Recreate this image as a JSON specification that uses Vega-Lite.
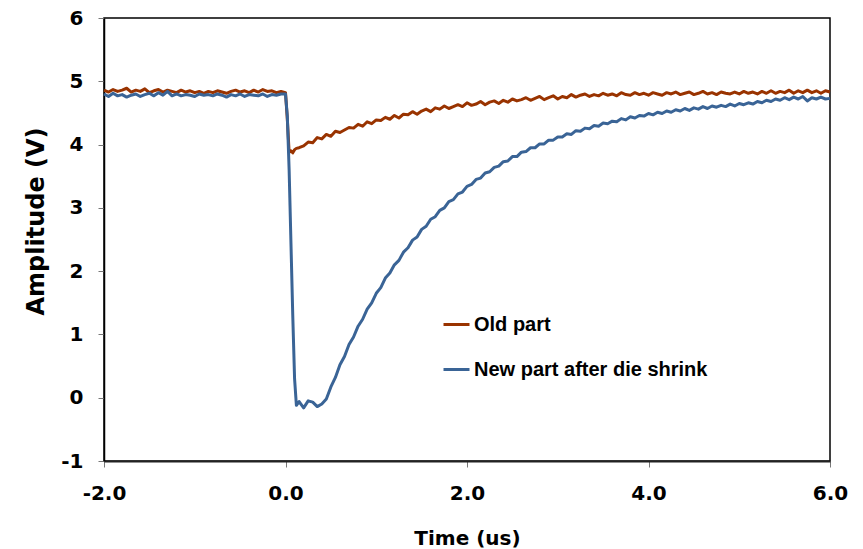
{
  "$schema": "https://vega.github.io/schema/vega-lite/v6.json",
  "width": 726,
  "height": 443,
  "autosize": {"type": "none"},
  "padding": {"left": 104, "top": 18, "right": 33, "bottom": 88},
  "background": "white",
  "config": {"view": {"stroke": "#000", "strokeWidth": 1.5}, "font": "DejaVu Sans"},
  "data": {"values": [
    {"t": -2.00, "o": 4.86, "n": 4.80}, {"t": -1.95, "o": 4.83, "n": 4.76}, {"t": -1.90, "o": 4.87, "n": 4.81},
    {"t": -1.85, "o": 4.84, "n": 4.77}, {"t": -1.80, "o": 4.86, "n": 4.79}, {"t": -1.75, "o": 4.89, "n": 4.75},
    {"t": -1.70, "o": 4.83, "n": 4.78}, {"t": -1.65, "o": 4.86, "n": 4.80}, {"t": -1.60, "o": 4.84, "n": 4.76},
    {"t": -1.55, "o": 4.88, "n": 4.79}, {"t": -1.50, "o": 4.82, "n": 4.81}, {"t": -1.45, "o": 4.85, "n": 4.77},
    {"t": -1.40, "o": 4.87, "n": 4.82}, {"t": -1.35, "o": 4.83, "n": 4.78}, {"t": -1.30, "o": 4.86, "n": 4.84},
    {"t": -1.25, "o": 4.84, "n": 4.77}, {"t": -1.20, "o": 4.82, "n": 4.80}, {"t": -1.15, "o": 4.86, "n": 4.77},
    {"t": -1.10, "o": 4.83, "n": 4.79}, {"t": -1.05, "o": 4.85, "n": 4.78}, {"t": -1.00, "o": 4.82, "n": 4.76},
    {"t": -0.95, "o": 4.84, "n": 4.80}, {"t": -0.90, "o": 4.81, "n": 4.78}, {"t": -0.85, "o": 4.84, "n": 4.79},
    {"t": -0.80, "o": 4.82, "n": 4.77}, {"t": -0.75, "o": 4.85, "n": 4.80}, {"t": -0.70, "o": 4.83, "n": 4.78},
    {"t": -0.65, "o": 4.81, "n": 4.75}, {"t": -0.60, "o": 4.84, "n": 4.79}, {"t": -0.55, "o": 4.86, "n": 4.77},
    {"t": -0.50, "o": 4.83, "n": 4.80}, {"t": -0.45, "o": 4.85, "n": 4.76}, {"t": -0.40, "o": 4.82, "n": 4.79},
    {"t": -0.35, "o": 4.86, "n": 4.78}, {"t": -0.30, "o": 4.83, "n": 4.77}, {"t": -0.25, "o": 4.87, "n": 4.80},
    {"t": -0.20, "o": 4.84, "n": 4.76}, {"t": -0.15, "o": 4.85, "n": 4.79}, {"t": -0.10, "o": 4.82, "n": 4.78},
    {"t": -0.05, "o": 4.84, "n": 4.80}, {"t": 0.00, "o": 4.82, "n": 4.80}, {"t": 0.02, "o": 4.40, "n": 4.45},
    {"t": 0.04, "o": 3.88, "n": 3.60}, {"t": 0.06, "o": 3.90, "n": 2.45}, {"t": 0.08, "o": 3.87, "n": 1.30},
    {"t": 0.10, "o": 3.92, "n": 0.30}, {"t": 0.12, "o": 3.94, "n": -0.12}, {"t": 0.15, "o": 3.95, "n": -0.06},
    {"t": 0.20, "o": 3.98, "n": -0.16}, {"t": 0.25, "o": 4.04, "n": -0.05}, {"t": 0.30, "o": 4.03, "n": -0.07},
    {"t": 0.35, "o": 4.11, "n": -0.14}, {"t": 0.40, "o": 4.09, "n": -0.10}, {"t": 0.45, "o": 4.16, "n": -0.02},
    {"t": 0.50, "o": 4.13, "n": 0.17}, {"t": 0.55, "o": 4.21, "n": 0.32}, {"t": 0.60, "o": 4.19, "n": 0.52},
    {"t": 0.65, "o": 4.23, "n": 0.65}, {"t": 0.70, "o": 4.27, "n": 0.84}, {"t": 0.75, "o": 4.26, "n": 0.96},
    {"t": 0.80, "o": 4.32, "n": 1.13}, {"t": 0.85, "o": 4.29, "n": 1.24}, {"t": 0.90, "o": 4.36, "n": 1.40},
    {"t": 0.95, "o": 4.33, "n": 1.50}, {"t": 1.00, "o": 4.39, "n": 1.65}, {"t": 1.05, "o": 4.38, "n": 1.74},
    {"t": 1.10, "o": 4.43, "n": 1.89}, {"t": 1.15, "o": 4.40, "n": 1.97}, {"t": 1.20, "o": 4.46, "n": 2.10},
    {"t": 1.25, "o": 4.42, "n": 2.17}, {"t": 1.30, "o": 4.48, "n": 2.30}, {"t": 1.35, "o": 4.47, "n": 2.37},
    {"t": 1.40, "o": 4.52, "n": 2.49}, {"t": 1.45, "o": 4.48, "n": 2.54}, {"t": 1.50, "o": 4.53, "n": 2.66},
    {"t": 1.55, "o": 4.56, "n": 2.71}, {"t": 1.60, "o": 4.52, "n": 2.82}, {"t": 1.65, "o": 4.58, "n": 2.86},
    {"t": 1.70, "o": 4.56, "n": 2.96}, {"t": 1.75, "o": 4.61, "n": 3.00}, {"t": 1.80, "o": 4.57, "n": 3.10},
    {"t": 1.85, "o": 4.60, "n": 3.13}, {"t": 1.90, "o": 4.63, "n": 3.22}, {"t": 1.95, "o": 4.60, "n": 3.25},
    {"t": 2.00, "o": 4.66, "n": 3.34}, {"t": 2.05, "o": 4.62, "n": 3.37}, {"t": 2.10, "o": 4.64, "n": 3.45},
    {"t": 2.15, "o": 4.68, "n": 3.47}, {"t": 2.20, "o": 4.63, "n": 3.55}, {"t": 2.25, "o": 4.67, "n": 3.57},
    {"t": 2.30, "o": 4.69, "n": 3.64}, {"t": 2.35, "o": 4.65, "n": 3.66}, {"t": 2.40, "o": 4.70, "n": 3.73},
    {"t": 2.45, "o": 4.67, "n": 3.74}, {"t": 2.50, "o": 4.72, "n": 3.81}, {"t": 2.55, "o": 4.69, "n": 3.81},
    {"t": 2.60, "o": 4.71, "n": 3.88}, {"t": 2.65, "o": 4.74, "n": 3.89}, {"t": 2.70, "o": 4.70, "n": 3.95},
    {"t": 2.75, "o": 4.73, "n": 3.95}, {"t": 2.80, "o": 4.76, "n": 4.01}, {"t": 2.85, "o": 4.71, "n": 4.01},
    {"t": 2.90, "o": 4.74, "n": 4.07}, {"t": 2.95, "o": 4.77, "n": 4.07}, {"t": 3.00, "o": 4.72, "n": 4.12},
    {"t": 3.05, "o": 4.76, "n": 4.12}, {"t": 3.10, "o": 4.74, "n": 4.17}, {"t": 3.15, "o": 4.79, "n": 4.16},
    {"t": 3.20, "o": 4.75, "n": 4.22}, {"t": 3.25, "o": 4.78, "n": 4.21}, {"t": 3.30, "o": 4.80, "n": 4.26},
    {"t": 3.35, "o": 4.76, "n": 4.25}, {"t": 3.40, "o": 4.79, "n": 4.30}, {"t": 3.45, "o": 4.77, "n": 4.29},
    {"t": 3.50, "o": 4.81, "n": 4.34}, {"t": 3.55, "o": 4.78, "n": 4.33}, {"t": 3.60, "o": 4.80, "n": 4.37},
    {"t": 3.65, "o": 4.77, "n": 4.36}, {"t": 3.70, "o": 4.82, "n": 4.41}, {"t": 3.75, "o": 4.79, "n": 4.39},
    {"t": 3.80, "o": 4.78, "n": 4.44}, {"t": 3.85, "o": 4.82, "n": 4.42}, {"t": 3.90, "o": 4.79, "n": 4.46},
    {"t": 3.95, "o": 4.81, "n": 4.45}, {"t": 4.00, "o": 4.78, "n": 4.49}, {"t": 4.05, "o": 4.82, "n": 4.47},
    {"t": 4.10, "o": 4.80, "n": 4.51}, {"t": 4.15, "o": 4.78, "n": 4.49}, {"t": 4.20, "o": 4.82, "n": 4.53},
    {"t": 4.25, "o": 4.80, "n": 4.51}, {"t": 4.30, "o": 4.83, "n": 4.55}, {"t": 4.35, "o": 4.79, "n": 4.53},
    {"t": 4.40, "o": 4.81, "n": 4.57}, {"t": 4.45, "o": 4.83, "n": 4.54}, {"t": 4.50, "o": 4.79, "n": 4.58},
    {"t": 4.55, "o": 4.81, "n": 4.56}, {"t": 4.60, "o": 4.84, "n": 4.60}, {"t": 4.65, "o": 4.80, "n": 4.57},
    {"t": 4.70, "o": 4.82, "n": 4.61}, {"t": 4.75, "o": 4.79, "n": 4.59}, {"t": 4.80, "o": 4.83, "n": 4.62},
    {"t": 4.85, "o": 4.81, "n": 4.60}, {"t": 4.90, "o": 4.80, "n": 4.64}, {"t": 4.95, "o": 4.83, "n": 4.61},
    {"t": 5.00, "o": 4.80, "n": 4.65}, {"t": 5.05, "o": 4.84, "n": 4.63}, {"t": 5.10, "o": 4.81, "n": 4.66},
    {"t": 5.15, "o": 4.83, "n": 4.64}, {"t": 5.20, "o": 4.80, "n": 4.68}, {"t": 5.25, "o": 4.84, "n": 4.66},
    {"t": 5.30, "o": 4.81, "n": 4.70}, {"t": 5.35, "o": 4.85, "n": 4.68}, {"t": 5.40, "o": 4.81, "n": 4.72},
    {"t": 5.45, "o": 4.84, "n": 4.70}, {"t": 5.50, "o": 4.82, "n": 4.74}, {"t": 5.55, "o": 4.86, "n": 4.71},
    {"t": 5.60, "o": 4.81, "n": 4.75}, {"t": 5.65, "o": 4.85, "n": 4.72}, {"t": 5.70, "o": 4.82, "n": 4.76},
    {"t": 5.75, "o": 4.86, "n": 4.69}, {"t": 5.80, "o": 4.82, "n": 4.74}, {"t": 5.85, "o": 4.85, "n": 4.72},
    {"t": 5.90, "o": 4.81, "n": 4.75}, {"t": 5.95, "o": 4.85, "n": 4.72}, {"t": 6.00, "o": 4.83, "n": 4.73}
  ]},
  "transform": [{"fold": ["o", "n"], "as": ["s", "v"]}],
  "mark": {"type": "line", "strokeWidth": 3, "strokeJoin": "round"},
  "encoding": {
    "x": {
      "field": "t", "type": "quantitative",
      "scale": {"domain": [-2, 6], "nice": false, "zero": false},
      "axis": {
        "values": [-2, 0, 2, 4, 6], "format": ".1f", "title": "Time (us)", "grid": false,
        "labelExpr": "replace(datum.label, '\u2212', '-')",
        "labelFont": "DejaVu Sans", "labelFontSize": 20, "labelFontWeight": "bold", "labelColor": "#000",
        "labelPadding": 16, "tickSize": 6, "tickColor": "#777", "domainColor": "#222", "domainWidth": 2,
        "titleFont": "DejaVu Sans", "titleFontSize": 20, "titleFontWeight": "bold", "titleColor": "#000",
        "titlePadding": 25, "labelFlush": false, "labelOverlap": false
      }
    },
    "y": {
      "field": "v", "type": "quantitative",
      "scale": {"domain": [-1, 6], "nice": false, "zero": false},
      "axis": {
        "values": [-1, 0, 1, 2, 3, 4, 5, 6], "format": "d", "title": "Amplitude (V)", "grid": false,
        "labelExpr": "replace(datum.label, '\u2212', '-')",
        "labelFont": "DejaVu Sans", "labelFontSize": 20, "labelFontWeight": "bold", "labelColor": "#000",
        "labelPadding": 15, "tickSize": 6, "tickColor": "#777", "domainColor": "#000", "domainWidth": 1.5,
        "titleFont": "DejaVu Sans", "titleFontSize": 24, "titleFontWeight": "bold", "titleColor": "#000",
        "titlePadding": 12, "titleY": 203, "labelFlush": false, "labelOverlap": false
      }
    },
    "color": {
      "field": "s", "type": "nominal",
      "scale": {"domain": ["o", "n"], "range": ["#993300", "#3A6496"]},
      "legend": {
        "orient": "none", "legendX": 338, "legendY": 292, "title": null, "padding": 0,
        "symbolType": "stroke", "symbolSize": 676, "symbolStrokeWidth": 3,
        "labelFont": "Liberation Sans", "labelFontSize": 20, "labelFontWeight": "bold", "labelColor": "#000",
        "labelOffset": 3, "rowPadding": 20, "labelLimit": 500,
        "labelExpr": "datum.label == 'o' ? 'Old part' : 'New part after die shrink'"
      }
    }
  }
}
